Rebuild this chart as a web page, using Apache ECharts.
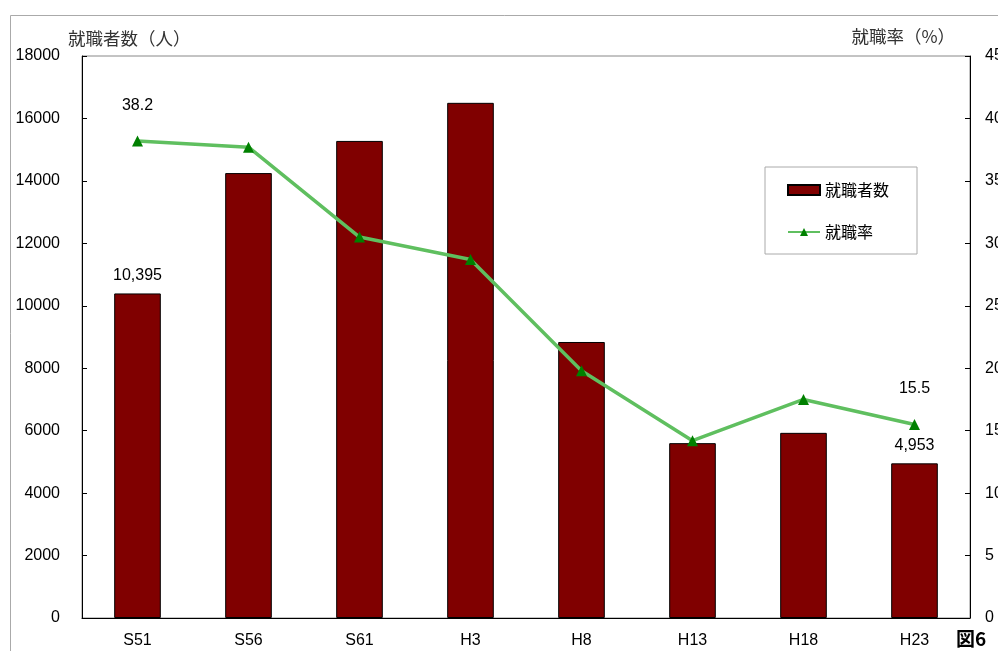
<!DOCTYPE html>
<html>
<head>
<meta charset="utf-8">
<script src="https://cdn.jsdelivr.net/npm/echarts@6/dist/echarts.min.js"></script>
<style>
  html, body { margin: 0; padding: 0; background: #fff; }
  #chart { width: 998px; height: 651px; }
</style>
</head>
<body>
<div id="chart"></div>
<script>
// --- data ---
const years = ['S51', 'S56', 'S61', 'H3', 'H8', 'H13', 'H18', 'H23'];
const employed = [10395, 14250, 15280, 16500, 8840, 5600, 5930, 4953];
const rate = [38.2, 37.7, 30.5, 28.7, 19.8, 14.2, 17.5, 15.5];
const leftTicks = { min: 0, max: 18000, interval: 2000 };
const rightTicks = { min: 0, max: 45, interval: 5 };

const jp = '"Noto Sans CJK JP", sans-serif';
const num = '"Liberation Sans", Arial, sans-serif';
const last = years.length - 1;

// only the first and last points carry labels
const barData = employed.map((v, i) => ({
  value: v,
  label: { show: i === 0 || i === last }
}));
const lineData = rate.map((v, i) => ({
  value: v,
  label: { show: i === 0 || i === last }
}));

const chart = echarts.init(document.getElementById('chart'));
chart.setOption({
  backgroundColor: '#fff',
  animation: false,
  grid: {
    left: 82, right: 28, top: 56, bottom: 33,
    outerBoundsMode: 'none',
    containLabel: false,
    show: true, borderColor: '#888', borderWidth: 1
  },
  legend: {
    orient: 'vertical',
    left: 765, top: 167,
    itemGap: 26,
    itemWidth: 32, itemHeight: 10,
    padding: [15, 28, 14, 22],
    borderColor: '#aaa', borderWidth: 1,
    textStyle: { fontFamily: jp, fontSize: 16, color: '#000' },
    data: [{ name: '就職者数', icon: 'rect' }, { name: '就職率' }]
  },
  xAxis: {
    type: 'category',
    data: years,
    axisLine: { lineStyle: { color: '#000', width: 1 } },
    axisTick: { inside: true, length: 5, lineStyle: { color: '#000' } },
    axisLabel: { margin: 15, fontFamily: num, fontSize: 16, color: '#000' }
  },
  yAxis: [
    {
      type: 'value',
      min: leftTicks.min, max: leftTicks.max, interval: leftTicks.interval,
      name: '就職者数（人）',
      nameLocation: 'end',
      nameGap: 9,
      nameTextStyle: { fontFamily: jp, fontSize: 17.5, color: '#333', align: 'left', padding: [0, 0, 0, -14] },
      axisLine: { show: true, lineStyle: { color: '#000' } },
      axisTick: { show: true, inside: true, length: 5, lineStyle: { color: '#000' } },
      axisLabel: { margin: 22, fontFamily: num, fontSize: 16, color: '#000', formatter: v => String(v) },
      splitLine: { show: false }
    },
    {
      type: 'value',
      min: rightTicks.min, max: rightTicks.max, interval: rightTicks.interval,
      name: '就職率（%）',
      nameLocation: 'end',
      nameGap: 11,
      nameTextStyle: { fontFamily: jp, fontSize: 17.5, color: '#333', align: 'right', padding: [0, 15, 0, 0] },
      position: 'right',
      axisLine: { show: true, lineStyle: { color: '#000' } },
      axisTick: { show: true, inside: true, length: 5, lineStyle: { color: '#000' } },
      axisLabel: { margin: 15, fontFamily: num, fontSize: 16, color: '#000' },
      splitLine: { show: false }
    }
  ],
  series: [
    {
      name: '就職者数',
      type: 'bar',
      yAxisIndex: 0,
      data: barData,
      barWidth: '42%',
      itemStyle: { color: '#800000', borderColor: '#000', borderWidth: 1 },
      label: {
        position: 'top',
        distance: 10,
        fontFamily: num, fontSize: 16, color: '#000',
        formatter: p => p.value.toLocaleString('en-US')
      },
      z: 2
    },
    {
      name: '就職率',
      type: 'line',
      yAxisIndex: 1,
      data: lineData,
      symbol: 'triangle',
      symbolSize: 11,
      itemStyle: { color: '#008000' },
      lineStyle: { color: '#5fbf5f', width: 3.5 },
      label: {
        position: 'top',
        distance: 22,
        fontFamily: num, fontSize: 16, color: '#000',
        formatter: p => p.value.toFixed(1)
      },
      z: 3
    }
  ],
  graphic: [
    {
      type: 'rect',
      shape: { x: 10.5, y: 15.5, width: 1200, height: 800 },
      style: { fill: 'none', stroke: '#aaa', lineWidth: 1 },
      silent: true
    },
    {
      type: 'text',
      left: 956, top: 629,
      style: { text: '図6', font: 'bold 19px "Noto Sans CJK JP", sans-serif', fill: '#000' }
    }
  ]
});
</script>
</body>
</html>
